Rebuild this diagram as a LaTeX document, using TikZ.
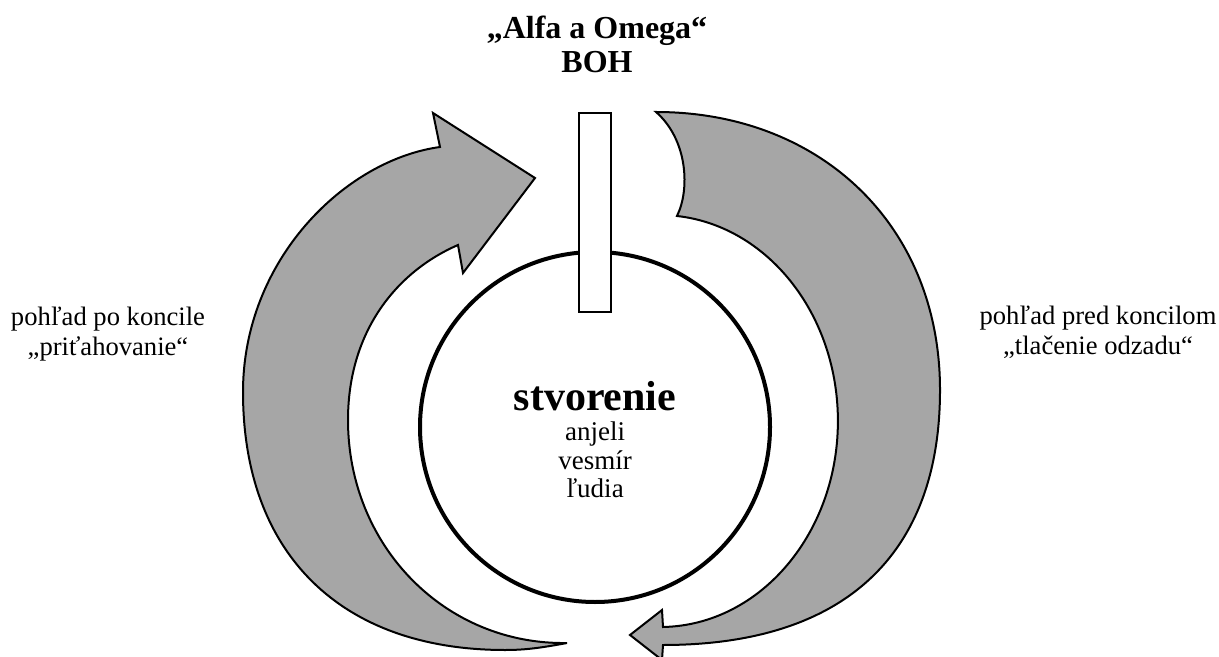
\documentclass[tikz,border=0pt]{standalone}
\usepackage{fontspec}
\setmainfont{Liberation Serif}
\tikzset{
  curvedarrow/.style={fill=black!35, draw=black, line width=1pt, line join=miter},
  sidelabel/.style={align=center, inner sep=0pt, font=\fontsize{13.3}{15}\selectfont},
}
\begin{document}
\begin{tikzpicture}[x=0.5pt, y=-0.5pt]
				\useasboundingbox (0,0) rectangle (1219,657);
				
				% left arrow (po koncile)
				\draw[curvedarrow] (458,245) .. controls (398,271) and (348,330) .. (348,420)
					.. controls (348,546) and (445,645) .. (567,643)
					.. controls (540,648) and (525,650) .. (505,650)
					.. controls (341,650) and (243,554) .. (243,392)
					.. controls (243,260) and (345,160) .. (440,147)
					-- (433,113) -- (535,178) -- (463,273) -- cycle;
				
				% right arrow (pred koncilom)
				\draw[curvedarrow] (656,112) .. controls (820,112) and (940,225) .. (940,390)
					.. controls (940,556) and (843,645) .. (663,645)
					-- (662,660) -- (630,635) -- (662,610) -- (663,627)
					arc[start angle=89, end angle=-84.5, x radius=178, y radius=206]
					.. controls (690,190) and (688,140) .. (656,112) -- cycle;
				
				% stvorenie
				\coordinate (stred) at (595,427);
				\draw[line width=2pt] (stred) circle (175);
				\draw[fill=white, line width=1.3pt] (579,113) rectangle (611,312);
				
				\node[align=center, inner sep=0pt, font=\fontsize{16}{17}\selectfont\bfseries] (boh) at (597,44) {„Alfa a Omega“\\BOH};
				\node[anchor=base, inner sep=0pt, font=\fontsize{21}{24}\selectfont\bfseries] (stvorenie) at (595,410) {stvorenie};
				\node[align=center, inner sep=0pt, font=\fontsize{13.5}{14.25}\selectfont] (tvory) at (595,460) {anjeli\\vesmír\\ľudia};
				
				\node[sidelabel] (po) at (108,334) {pohľad po koncile\\„priťahovanie“};
				\node[sidelabel] (pred) at (1098,332) {pohľad pred koncilom\\„tlačenie odzadu“};
\end{tikzpicture}
\end{document}
